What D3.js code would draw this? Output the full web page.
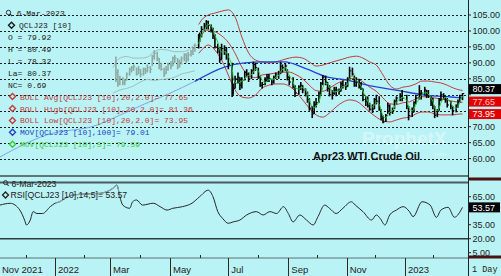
<!DOCTYPE html>
<html>
<head>
<meta charset="utf-8">
<script src="https://cdn.jsdelivr.net/npm/d3@7"></script>
<style>
  body { margin: 0; background: #b9f3f6; }
  svg { display: block; font-family: "Liberation Sans", Arial, sans-serif; }
</style>
</head>
<body>
<svg id="chart" width="501" height="276"></svg>
<script>
const parse = d3.timeParse("%Y-%m-%d");

// ---- data: Apr23 WTI (QCLJ23) ----
// grey bars = before the contract was the active one
const grayDates = ["2022-03-07","2022-03-09","2022-03-11","2022-03-14","2022-03-16","2022-03-18","2022-03-21","2022-03-23","2022-03-25","2022-03-28","2022-03-30","2022-04-01","2022-04-04","2022-04-06","2022-04-08","2022-04-11","2022-04-13","2022-04-15","2022-04-18","2022-04-20","2022-04-22","2022-04-25","2022-04-27","2022-04-29","2022-05-02","2022-05-04","2022-05-06","2022-05-09","2022-05-11","2022-05-13","2022-05-16","2022-05-18","2022-05-20","2022-05-23","2022-05-25","2022-05-27"];
const grayHigh = [92,88,86,85.5,85,87,88.5,89,89.5,88.5,89,88,88.5,88.5,89.5,89,92.5,94,93.5,91.5,90,88.5,89,90,90.5,92,92.5,91.5,91,92,93,93,93.5,94,95,96];
const grayLow = [84,82.5,83,83,83,84.5,86,87,87.5,86,86.5,85.5,86,86.5,87,86.8,89,91,90.5,88,87.5,85.6,86.5,87.5,88,89,90,88,88.5,89.5,90.5,90,90.5,92,92.5,93.5];
const grayClose = [87,83.5,85,83.8,84.5,86.5,88,88.5,88.8,86.5,88,86.5,88,87.5,88.5,88,92,93,91.5,89,88,86.5,88,89.5,89,91.5,91.5,88.8,90,91.5,92.5,91,92.5,93.5,94.5,95.5];

const barDates = ["2022-05-31","2022-06-01","2022-06-03","2022-06-06","2022-06-08","2022-06-10","2022-06-13","2022-06-15","2022-06-17","2022-06-20","2022-06-22","2022-06-24","2022-06-27","2022-06-29",
  "2022-07-01","2022-07-05","2022-07-06","2022-07-08","2022-07-11","2022-07-13","2022-07-15","2022-07-18","2022-07-20","2022-07-22","2022-07-25","2022-07-27","2022-07-29",
  "2022-08-01","2022-08-03","2022-08-05","2022-08-08","2022-08-10","2022-08-12","2022-08-15","2022-08-17","2022-08-19","2022-08-22","2022-08-24","2022-08-26","2022-08-29","2022-08-31",
  "2022-09-02","2022-09-06","2022-09-08","2022-09-12","2022-09-14","2022-09-16","2022-09-19","2022-09-21","2022-09-23","2022-09-26","2022-09-28","2022-09-30",
  "2022-10-03","2022-10-05","2022-10-07","2022-10-10","2022-10-12","2022-10-14","2022-10-17","2022-10-19","2022-10-21","2022-10-24","2022-10-26","2022-10-28","2022-10-31",
  "2022-11-02","2022-11-04","2022-11-07","2022-11-09","2022-11-11","2022-11-14","2022-11-16","2022-11-18","2022-11-21","2022-11-23","2022-11-25","2022-11-28","2022-11-30",
  "2022-12-02","2022-12-05","2022-12-07","2022-12-09","2022-12-12","2022-12-14","2022-12-16","2022-12-19","2022-12-21","2022-12-23","2022-12-27","2022-12-29",
  "2023-01-03","2023-01-05","2023-01-09","2023-01-11","2023-01-13","2023-01-17","2023-01-19","2023-01-23","2023-01-25","2023-01-27","2023-01-30",
  "2023-02-01","2023-02-03","2023-02-06","2023-02-08","2023-02-10","2023-02-13","2023-02-15","2023-02-17","2023-02-21","2023-02-23","2023-02-27",
  "2023-03-01","2023-03-03","2023-03-06"];
const barHigh = [99,99.5,101.5,102.5,103.4,103.2,102,101,99,96,95,96,95.5,95,
  93,90,83.5,86,87,85.5,85.5,87.5,88,87,88,90.4,90,
  88.5,86,84,85.5,86.5,86.5,85,86,87,87.5,90.3,89.5,90,88,
  86,85.5,83,83,84,83,82,81,79,76.5,78,79,
  81,84,86.2,86,84,83,81.5,82.5,82.5,82,84,84.5,84,
  85.5,88.8,88.5,86,85.5,85,84,82,79.5,79.5,77.5,77,79,
  80,79.5,75.5,73.5,74,77.5,77,76,78.5,79.5,80.5,81.5,
  80,76.5,76,78,80,83,81.5,82.5,81.5,81.5,79.5,
  79,76.5,75.5,79,81,80.5,79.5,79,78,76.5,77,
  78.5,80,80.49];
const barLow = [94.5,96.5,98,100,100.5,100.5,99.5,97.5,94.5,93,90,91,92.5,91,
  88,79.3,80,82,83.5,81.5,82,84.5,85.5,84,85,86.5,87.5,
  85,82.5,82,83,84,84,83,83.5,85,85,86.5,87,87.5,84.5,
  83,82,79.3,80,81.5,80.5,79.5,77.5,75,72.7,74,76,
  77.5,80,83,83,81,79.5,78.5,80,79.5,80,81,82,81.5,
  82.5,84.5,86,82.5,82.5,82,81.5,78,76.5,76,75,74.3,75.5,
  77,75,72,71.1,71.5,74,73.5,74,75.5,77,78,78,
  75.5,72,73,74.5,77,78.5,78.5,80,79,79,76.5,
  75.5,72.7,73,75,78,78.5,77.5,76,75.5,73.6,74.5,
  76,77.5,78.32];
const barClose = [97.5,98.5,100.5,101.5,102.8,101.8,100.5,98.5,95,94.5,91,94.5,94,92.5,
  89.5,81.5,82,85,85.5,83,84.5,87,86.5,85,87.5,89.5,88.5,
  85.5,83,83.2,84.5,85.5,85,84,85.5,86.5,86.5,89,88.5,89,85.5,
  84,82.5,80.5,82.5,83,81.5,80.5,78.5,75.8,74,77,77.5,
  80.5,83.5,85.5,84,82,80,80.5,81.5,81.5,81,83.5,83,82.5,
  84.5,87.5,86.5,83,84,82.5,82,78.5,78,76.5,75.5,75.5,78.5,
  78,75.5,72.5,71.5,73.5,76.5,74.5,75,78,79,79.5,79,
  76.5,73.5,74.5,77.5,79,80.5,80.5,81.5,80,79.5,77.5,
  76.5,73.5,74.8,78.5,80,79.5,78.8,76.8,76.5,75,76,
  77.8,79.7,80.37];
const mov5 = [96,97,98.8,100.2,101.5,102,101.6,100.6,98.6,96.5,94.2,93.4,93.5,93.2,
  92,88.5,85.5,84,83.5,84,84.3,85,85.8,86,86.3,87.2,88,
  87.5,86,84.5,83.8,84.2,84.8,84.8,84.9,85.5,86,87.2,88,88.5,87.5,
  86,84.2,82.3,81.8,82.2,82.3,81.6,80.3,78.3,76.3,76,76.5,
  77.8,79.8,82.2,83.6,83.5,82.3,81.2,80.9,81,81.2,82,82.6,82.8,
  83.4,85,85.8,85.3,84.5,83.5,82.8,81,79.5,78,77,76.2,76.8,
  77.5,77,75.2,73.3,72.8,73.8,74.6,75,76.2,77.6,78.8,79.2,
  78.2,76.2,75,75.5,77,78.8,79.8,80.6,80.6,80.2,79,
  78,76,75,75.8,77.5,78.8,79.2,78.5,77.5,76.3,75.8,
  76.3,77.8,79.59];

// Bollinger (20, 2.0), weekly readings
const bollDates = ["2022-05-31","2022-06-03","2022-06-10","2022-06-17","2022-06-24","2022-07-01","2022-07-08","2022-07-15","2022-07-22","2022-07-29","2022-08-05","2022-08-12","2022-08-19","2022-08-26","2022-09-02","2022-09-09","2022-09-16","2022-09-23","2022-09-30","2022-10-07","2022-10-14","2022-10-21","2022-10-28","2022-11-04","2022-11-11","2022-11-18","2022-11-25","2022-12-02","2022-12-09","2022-12-16","2022-12-23","2022-12-30","2023-01-06","2023-01-13","2023-01-20","2023-01-27","2023-02-03","2023-02-10","2023-02-17","2023-02-24","2023-03-03","2023-03-06"];
const bollHigh = [102,103.4,105,105.6,106.2,106.6,104.4,98.1,93.1,90.9,90.3,90,90.3,90.9,91.5,91.8,91.5,90.3,89,89.3,90,90.6,91.2,91.8,92.1,91.5,90.3,89.3,86.2,83,81.8,82.4,82.7,83.4,84.3,84.3,84,83.7,83,82.1,81.5,81.36];
const bollAvg = [97,98.7,100.3,99.8,98.5,96.4,93,88.7,86,85.4,86.2,86.5,86.8,87.1,87.1,86.3,85,83,81.3,81.1,82.1,83.4,84.4,85.1,85,84,82.4,81.1,79,77.2,77,77.5,77.8,78.7,79.4,79.4,79,78.7,78.4,77.9,77.7,77.65];
const bollLow = [93,94,95.6,94,90.9,86.2,81.5,79.3,79,79.9,82.1,83,83.4,83.4,82.7,80.9,78.4,75.8,73.7,73,74.3,76.2,77.7,78.4,78,76.5,74.6,73,71.8,71.5,72.1,72.7,73,74,74.6,74.6,74,73.7,73.7,73.7,74,73.95];

const grayBandDates = ["2022-03-04","2022-03-11","2022-03-18","2022-03-25","2022-04-01","2022-04-08","2022-04-15","2022-04-22","2022-04-29","2022-05-06","2022-05-13","2022-05-20","2022-05-27"];
const grayBandHigh = [88.5,91.5,92,91.5,91.5,91.8,93.5,94.2,94,93.5,93.5,94,96];
const grayBandLow = [80.5,81.5,82,82.8,84,84.8,84.5,84.8,85,85.5,86.5,87,87.5];

// 100-day moving average
const movEarlyDates = ["2021-11-04","2021-12-23","2022-02-15","2022-03-11","2022-04-05","2022-05-01","2022-05-27"];
const movEarly = [60.5,67.4,70.5,73.6,77.1,80.5,84.2];
const movDates = ["2022-05-27","2022-06-27","2022-07-18","2022-08-08","2022-08-28","2022-09-20","2022-10-11","2022-11-01","2022-11-28","2022-12-27","2023-01-24","2023-02-21","2023-03-06"];
const mov100 = [84.2,88.7,90,90.3,90.3,88.1,85.6,84.6,82.7,81.2,79.9,79.3,79.01];

// RSI (14, 5)
const rsiDates = ["2021-11-04","2021-11-15","2021-11-25","2021-11-30","2021-12-02","2021-12-06","2021-12-09","2021-12-13","2021-12-19","2021-12-27","2022-01-01","2022-01-06","2022-01-12","2022-01-20","2022-02-04","2022-02-18","2022-03-04","2022-03-08","2022-03-11","2022-03-14","2022-03-21","2022-03-24","2022-03-28","2022-04-03","2022-04-14","2022-04-21","2022-04-28","2022-05-04","2022-05-14","2022-05-24","2022-06-01","2022-06-10","2022-06-15","2022-06-20","2022-06-25","2022-07-01","2022-07-06","2022-07-13","2022-07-20","2022-07-30","2022-08-06","2022-08-13","2022-08-20","2022-08-27","2022-09-01","2022-09-06","2022-09-13","2022-09-20","2022-09-27","2022-10-02","2022-10-09","2022-10-14","2022-10-21","2022-10-28","2022-11-06","2022-11-10","2022-11-18","2022-11-27","2022-12-02","2022-12-06","2022-12-11","2022-12-16","2022-12-23","2022-12-30","2023-01-06","2023-01-10","2023-01-20","2023-01-29","2023-02-05","2023-02-10","2023-02-18","2023-02-25","2023-03-06"];
const rsiValues = [56,57.9,50.7,40,34.7,40,49,47,47,54.3,58,59.6,63.3,66.8,68,68.6,74,77.5,65,56,52.6,59.6,61.5,56,58,54.3,50.7,52.6,54.3,58,65,72,65,49,41.8,36.5,38,40,45.4,49,45.4,49,47,54.3,47,38,45.4,40,34.7,43.6,56,52.6,47,52.6,59.6,56,49,40,45.4,41.8,34.7,45.4,50.7,54.3,49,43.6,59.6,56,42.9,50.7,53.6,43,53.57];

const priceTicks = [60,65,70,75,80,85,90,95,100,105];
const rsiTicks = [5,20,35,50,65];
const monthDates = ["2021-11-01","2022-01-01","2022-03-01","2022-05-01","2022-07-01","2022-09-01","2022-11-01","2023-01-01"];
const monthLabels = ["Nov 2021","2022","Mar","May","Jul","Sep","Nov","2023"];
const minorDates = ["2021-12-01","2022-02-01","2022-04-01","2022-06-01","2022-08-01","2022-10-01","2022-12-01","2023-02-01"];

// ---- layout ----
const W = 501, H = 276, plotR = 468;
const bg = "#b9f3f6";
const mono = "'Liberation Mono','DejaVu Sans Mono',monospace";

const svg = d3.select("#chart");
svg.append("rect").attr("width", W).attr("height", H).attr("fill", bg);

// time strip is not quite linear (trading days), so anchor each month start
const x = d3.scaleTime()
  .domain(["2021-11-01","2022-01-01","2022-03-01","2022-05-01","2022-07-01","2022-09-01","2022-11-01","2023-01-01","2023-03-01"].map(parse))
  .range([-3, 55, 110, 170, 228.3, 288.3, 346.7, 405, 458]);
const y = d3.scaleLinear().domain([60, 105]).range([158.6, 15]);
const yr = d3.scaleLinear().domain([5, 65]).range([252.7, 196.7]);
const X = s => x(parse(s));

const defs = svg.append("defs");
defs.append("clipPath").attr("id", "clipMain").append("rect").attr("x", 0).attr("y", 0).attr("width", plotR).attr("height", 175);
defs.append("clipPath").attr("id", "clipRsi").append("rect").attr("x", 0).attr("y", 183).attr("width", plotR).attr("height", 74);

// ---- main panel ----
const main = svg.append("g").attr("clip-path", "url(#clipMain)");

// watermark
main.append("text").attr("x", 362).attr("y", 145).attr("font-size", 19).attr("font-weight", "bold")
  .attr("fill", "#ffffff").attr("opacity", 0.4).text("ProphetX");
main.append("text").attr("x", 433).attr("y", 155.5).attr("font-size", 6).attr("fill", "#ffffff").attr("opacity", 0.5).text(".com");

main.selectAll("line.grid").data(priceTicks).join("line")
  .attr("class", "grid")
  .attr("x1", 0).attr("x2", plotR)
  .attr("y1", d => Math.round(y(d)) + 0.5).attr("y2", d => Math.round(y(d)) + 0.5)
  .attr("stroke", "#1c1c1c").attr("stroke-dasharray", "2,2");

const line = (dates, vals) => d3.line().curve(d3.curveMonotoneX)
  .x((d, i) => X(dates[i])).y(d => y(d))(vals);

// grey bands
[grayBandHigh, grayBandLow].forEach(vals => {
  main.append("path").attr("d", line(grayBandDates, vals))
    .attr("fill", "none").attr("stroke", "#a6bcb8").attr("stroke-width", 1);
});

// early MA (light blue)
main.append("path").attr("d", line(movEarlyDates, movEarly))
  .attr("fill", "none").attr("stroke", "#7ea6e6").attr("stroke-width", 1);

// bars
function drawBars(dates, hi, lo, cl, color) {
  const g = main.append("g").attr("stroke", color);
  g.selectAll("line.hl").data(dates).join("line")
    .attr("x1", d => X(d)).attr("x2", d => X(d))
    .attr("y1", (d, i) => y(hi[i])).attr("y2", (d, i) => y(lo[i]))
    .attr("stroke-width", 1.6);
  g.selectAll("line.cl").data(dates).join("line")
    .attr("x1", d => X(d)).attr("x2", d => X(d) + 1.8)
    .attr("y1", (d, i) => y(cl[i])).attr("y2", (d, i) => y(cl[i]))
    .attr("stroke-width", 1);
}
drawBars(grayDates, grayHigh, grayLow, grayClose, "#8fa9a1");

// Bollinger bands
[bollHigh, bollAvg, bollLow].forEach(vals => {
  main.append("path").attr("d", line(bollDates, vals))
    .attr("fill", "none").attr("stroke", "#c23b3b").attr("stroke-width", 1);
});

main.append("path").attr("d", line(movDates, mov100))
  .attr("fill", "none").attr("stroke", "#2343d6").attr("stroke-width", 1.3);

drawBars(barDates, barHigh, barLow, barClose, "#000000");

main.append("path").attr("d", line(barDates, mov5))
  .attr("fill", "none").attr("stroke", "#2fc52f").attr("stroke-width", 1);

// title
svg.append("text").attr("x", 313).attr("y", 160).attr("font-size", 11).attr("font-weight", "bold")
  .attr("fill", "#111").text("Apr23 WTI Crude Oil");

// legend
const lastI = barDates.length - 1;
const fmt = d3.format(".2f");
const legend = [
  { t: "6-Mar-2023", c: "#1a1a1a", x: 16.7, icon: "mag" },
  { t: "QCLJ23 [10]", c: "#1a1a1a", x: 19, icon: "dia" },
  { t: "O = 79.92", c: "#1a1a1a", x: 8 },
  { t: "H = " + fmt(barHigh[lastI]), c: "#1a1a1a", x: 8 },
  { t: "L = " + fmt(barLow[lastI]), c: "#1a1a1a", x: 8 },
  { t: "La= " + fmt(barClose[lastI]), c: "#1a1a1a", x: 8 },
  { t: "NC= 0.69", c: "#1a1a1a", x: 8 },
  { t: "BOLL Avg[QCLJ23 [10],20,2.0]= " + fmt(bollAvg[bollAvg.length - 1]), c: "#c23b3b", x: 20, icon: "dia" },
  { t: "BOLL High[QCLJ23 [10],20,2.0]= " + fmt(bollHigh[bollHigh.length - 1]), c: "#c23b3b", x: 20, icon: "dia" },
  { t: "BOLL Low[QCLJ23 [10],20,2.0]= " + fmt(bollLow[bollLow.length - 1]), c: "#c23b3b", x: 20, icon: "dia" },
  { t: "MOV[QCLJ23 [10],100]= " + fmt(mov100[mov100.length - 1]), c: "#2343c8", x: 20, icon: "dia" },
  { t: "MOV[QCLJ23 [10],5]= " + fmt(mov5[lastI]), c: "#3cc83c", x: 20, icon: "dia" }
];
const lg = svg.append("g").attr("font-family", mono).attr("font-size", 8);
legend.forEach((r, i) => {
  const by = 16.3 + i * 11.9;
  lg.append("text").attr("x", r.x).attr("y", by).attr("fill", r.c).text(r.t);
  const cy = by - 3;
  if (r.icon === "dia") {
    const cx = r.x - 7.5;
    lg.append("path").attr("d", `M${cx},${cy - 3}L${cx + 3},${cy}L${cx},${cy + 3}L${cx - 3},${cy}Z`)
      .attr("fill", bg).attr("stroke", r.c).attr("stroke-width", 1.4);
  } else if (r.icon === "mag") {
    lg.append("circle").attr("cx", 8.5).attr("cy", cy - 0.8).attr("r", 2.2).attr("fill", "none").attr("stroke", "#333");
    lg.append("line").attr("x1", 10.1).attr("y1", cy + 0.8).attr("x2", 12).attr("y2", cy + 2.7).attr("stroke", "#333").attr("stroke-width", 1.2);
  }
});

// panel borders
svg.append("line").attr("x1", 0).attr("x2", plotR).attr("y1", 176).attr("y2", 176).attr("stroke", "#5d7676").attr("stroke-width", 2);
svg.append("line").attr("x1", 0).attr("x2", plotR).attr("y1", 182.5).attr("y2", 182.5).attr("stroke", "#4a5c5c").attr("stroke-width", 1.8);

// ---- RSI panel ----
const rsi = svg.append("g").attr("clip-path", "url(#clipRsi)");
rsi.append("line").attr("x1", 0).attr("x2", plotR).attr("y1", yr(20)).attr("y2", yr(20)).attr("stroke", "#2e3c3c").attr("stroke-width", 1.5);
const rsiLine = d3.line().curve(d3.curveMonotoneX).x((d, i) => X(rsiDates[i])).y(d => yr(d));
rsi.append("path").attr("d", rsiLine(rsiValues)).attr("fill", "none").attr("stroke", "#262626").attr("stroke-width", 1);
// lighter stretch while the contract was thinly traded
const dimIdx = rsiDates.map((d, i) => i).filter(i => rsiDates[i] >= "2022-01-01" && rsiDates[i] <= "2022-03-11");
rsi.append("path")
  .attr("d", d3.line().curve(d3.curveMonotoneX).x(i => X(rsiDates[i])).y(i => yr(rsiValues[i]))(dimIdx))
  .attr("fill", "none").attr("stroke", "#8aa6a6").attr("stroke-width", 1.2);

svg.append("circle").attr("cx", 5.5).attr("cy", 182.6).attr("r", 2).attr("fill", "none").attr("stroke", "#333");
svg.append("line").attr("x1", 7).attr("y1", 184).attr("x2", 8.6).attr("y2", 185.8).attr("stroke", "#333").attr("stroke-width", 1.1);
svg.append("text").attr("x", 11.5).attr("y", 186.5).attr("font-size", 8.7).attr("fill", "#222").text("6-Mar-2023");
svg.append("path").attr("d", "M5.5,192L8.5,195L5.5,198L2.5,195Z").attr("fill", bg).attr("stroke", "#222").attr("stroke-width", 1.3);
svg.append("text").attr("x", 10.5).attr("y", 198.2).attr("font-size", 8.7).attr("fill", "#222")
  .text("RSI[QCLJ23 [10],14,5]= " + fmt(rsiValues[rsiValues.length - 1]));

// ---- right axis ----
// current value boxes, stacked upward when they collide
const marks = [
  { v: bollLow[bollLow.length - 1], bg: "#e10000", fg: "#ffffff" },
  { v: bollAvg[bollAvg.length - 1], bg: "#e10000", fg: "#ffc4c4" },
  { v: barClose[lastI], bg: "#000000", fg: "#ffffff" }
];
let prevY = Infinity;
marks.forEach(m => { m.cy = Math.min(y(m.v), prevY - 12.5); prevY = m.cy; });
const rv = rsiValues[rsiValues.length - 1];

svg.append("line").attr("x1", plotR + 0.5).attr("x2", plotR + 0.5).attr("y1", 0).attr("y2", 276).attr("stroke", "#222");
const ax = svg.append("g").attr("font-size", 9).attr("fill", "#1e1e1e");
priceTicks.forEach(v => {
  ax.append("line").attr("x1", plotR).attr("x2", plotR + 3).attr("y1", y(v)).attr("y2", y(v)).attr("stroke", "#222");
  if (marks.every(m => Math.abs(m.cy - y(v)) > 9))
    ax.append("text").attr("x", 472.5).attr("y", y(v) + 3.3).text(fmt(v));
});
rsiTicks.forEach(v => {
  ax.append("line").attr("x1", plotR).attr("x2", plotR + 3).attr("y1", yr(v)).attr("y2", yr(v)).attr("stroke", "#222");
  if (Math.abs(yr(rv) - yr(v)) > 9)
    ax.append("text").attr("x", 472.5).attr("y", yr(v) + 3.3).text(fmt(v));
});

marks.forEach(m => {
  svg.append("rect").attr("x", 469).attr("y", m.cy - 5).attr("width", 32).attr("height", 10).attr("fill", m.bg);
  svg.append("text").attr("x", 472.5).attr("y", m.cy + 3.3).attr("font-size", 9).attr("fill", m.fg).text(fmt(m.v));
});
svg.append("rect").attr("x", 469).attr("y", yr(rv) - 5).attr("width", 31).attr("height", 10).attr("fill", "#000");
svg.append("text").attr("x", 472.5).attr("y", yr(rv) + 3.3).attr("font-size", 9).attr("fill", "#fff").text(fmt(rv));

// panel splitters on the axis side
svg.append("rect").attr("x", 469).attr("y", 177.5).attr("width", 32).attr("height", 3).attr("fill", "#4b1212");
svg.append("rect").attr("x", 469).attr("y", 255.5).attr("width", 32).attr("height", 3).attr("fill", "#4b1212");

// ---- time strip ----
svg.append("line").attr("x1", 0).attr("x2", plotR).attr("y1", 258).attr("y2", 258).attr("stroke", "#5d7272");
svg.selectAll("line.major").data(monthDates).join("line")
  .attr("x1", d => Math.round(X(d)) + 0.5).attr("x2", d => Math.round(X(d)) + 0.5)
  .attr("y1", 258).attr("y2", 276).attr("stroke", "#2a2a2a");
svg.selectAll("line.minor").data(minorDates).join("line")
  .attr("x1", d => Math.round(X(d)) + 0.5).attr("x2", d => Math.round(X(d)) + 0.5)
  .attr("y1", 255).attr("y2", 258).attr("stroke", "#2a2a2a");
svg.selectAll("text.month").data(monthDates).join("text")
  .attr("x", d => Math.max(X(d) + 3, 2)).attr("y", 272.5)
  .attr("font-size", 9.5).attr("fill", "#222")
  .text((d, i) => monthLabels[i]);
svg.append("text").attr("x", 472).attr("y", 272).attr("font-family", mono).attr("font-size", 8.5).attr("fill", "#222").text("1 Day");
</script>
</body>
</html>
